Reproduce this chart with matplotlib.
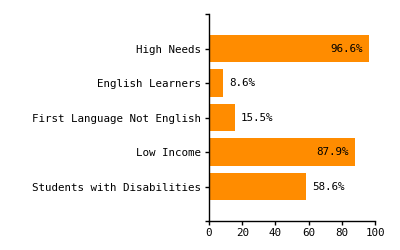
import matplotlib
matplotlib.use('Agg')
import matplotlib.pyplot as plt

# data
categories = ['High Needs', 'English Learners', 'First Language Not English',
              'Low Income', 'Students with Disabilities']
values = [96.6, 8.6, 15.5, 87.9, 58.6]
xticks = [0, 20, 40, 60, 80, 100]

plt.rcParams['font.family'] = 'DejaVu Sans Mono'
plt.rcParams['font.size'] = 7.85

fig = plt.figure(figsize=(4, 2.5), dpi=100)
ax = fig.add_axes([0.5225, 0.116, 0.415, 0.828])

pos = list(range(len(categories)))
ax.barh(pos, values, height=0.8, color='#ff8c00')

for p, v in zip(pos, values):
	if v > 70:
		ax.annotate('%.1f%%' % v, (v, p), xytext=(-6, 0), textcoords='offset pixels',
			ha='right', va='center', color='black')
	else:
		ax.annotate('%.1f%%' % v, (v, p), xytext=(6, 0), textcoords='offset pixels',
			ha='left', va='center', color='black')

ax.set_xlim(0, 100)
ax.set_ylim(5, -1)
ax.set_xticks(xticks)
ax.set_yticks(pos)
ax.set_yticklabels(categories)
ax.set_yticks([-1, 5], minor=True)

for s in ['top', 'right']:
	ax.spines[s].set_visible(False)
for s in ['left', 'bottom']:
	ax.spines[s].set_linewidth(1.0)
ax.tick_params(axis='both', which='both', length=3, width=1.0, pad=2, colors='black')
ax.tick_params(axis='y', pad=3)

fig.savefig('out.png', dpi=100)
